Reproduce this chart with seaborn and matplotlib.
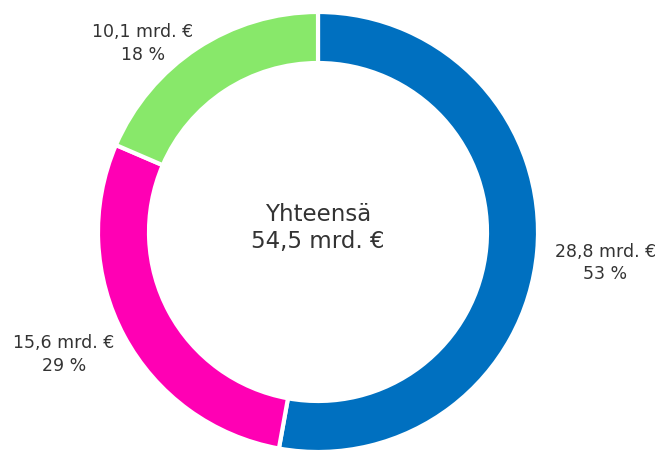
import matplotlib
matplotlib.use("Agg")
import matplotlib.pyplot as plt
import numpy as np
import seaborn as sns

# values in billions of euros, in drawing order (clockwise from 12 o'clock)
values = [28.8, 15.6, 10.1]
value_labels = ["28,8 mrd. €", "15,6 mrd. €", "10,1 mrd. €"]
share_labels = ["53 %", "29 %", "18 %"]
colors = ["#0070C0", "#FF00B4", "#88E86A"]
total_title = "Yhteensä"
total_label = "54,5 mrd. €"

sns.set_theme(style="white")
plt.rcParams["font.family"] = ["DejaVu Sans"]
palette = sns.color_palette(colors)

W, H = 663, 451
fig = plt.figure(figsize=(W / 100, H / 100), dpi=100)
ax = fig.add_axes([0, 0, 1, 1])

# work in pixel units so the ring sits where it does in the reference
cx, cy = 318, 232
R = 220
ring = 51

wedges, _ = ax.pie(values, radius=R, startangle=90, counterclock=False,
                   colors=palette, center=(0, 0),
                   wedgeprops=dict(width=ring, edgecolor="white", linewidth=3))

text_color = "#333333"
for w, v, s in zip(wedges, value_labels, share_labels):
    ang = np.deg2rad((w.theta1 + w.theta2) / 2)
    dist = R * 1.08
    x, y = dist * np.cos(ang), dist * np.sin(ang) - 10
    if x < 0:
        x += 6
    ha = "left" if x > 0 else "right"
    ax.text(x, y, f"{v}\n{s}", ha=ha, va="center", multialignment="center",
            fontsize=12.5, color=text_color, linespacing=1.3)

ax.text(0, 4, f"{total_title}\n{total_label}", ha="center", va="center",
        fontsize=16.5, color=text_color, linespacing=1.2)

ax.set_xlim(-cx, W - cx)
ax.set_ylim(-(H - cy), cy)
ax.set_aspect("equal")
ax.axis("off")

fig.savefig("out.png", dpi=100)
plt.close(fig)
